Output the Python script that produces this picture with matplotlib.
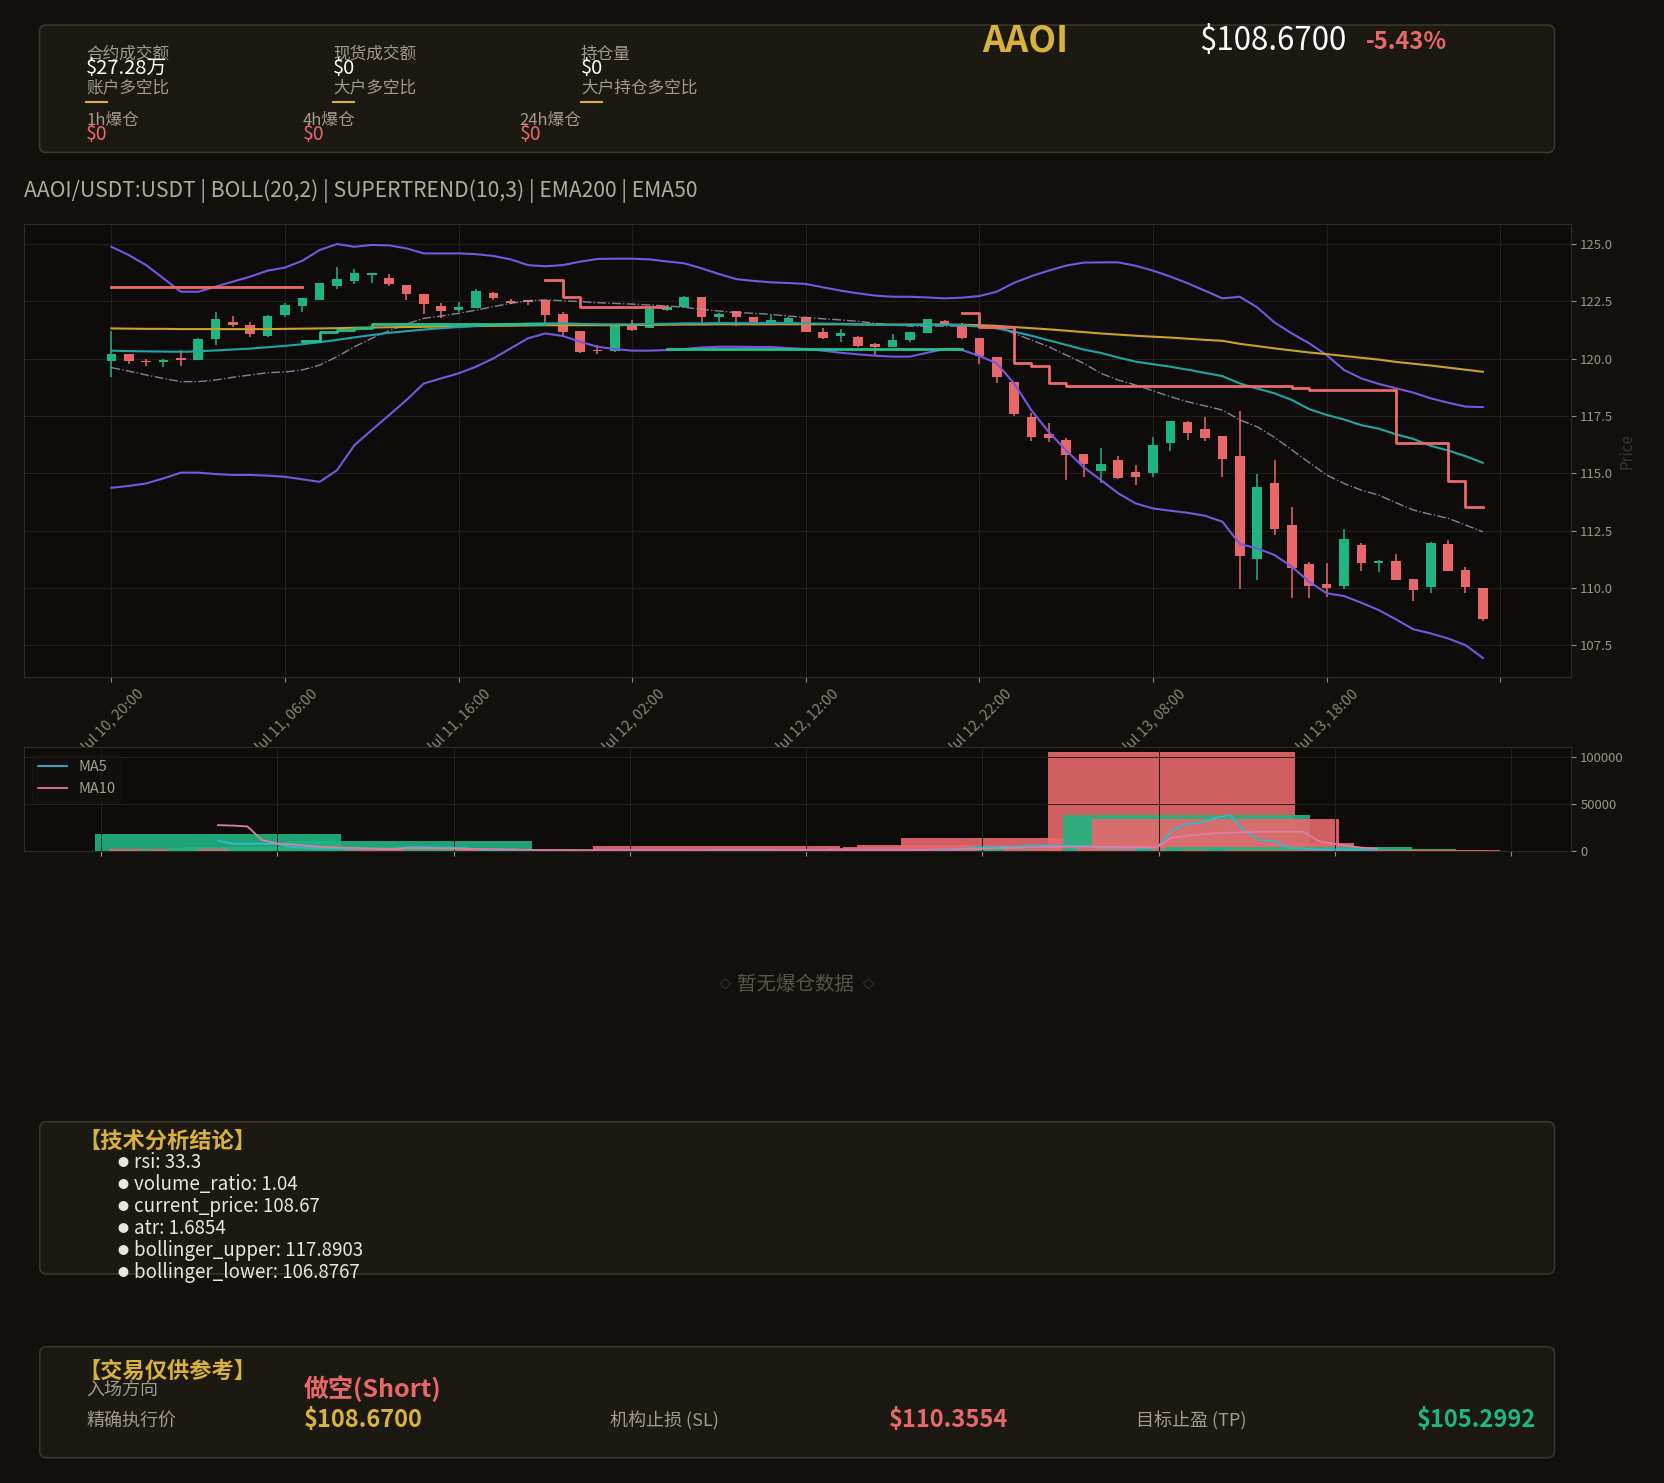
import numpy as np
import matplotlib
matplotlib.use("Agg")
import matplotlib.pyplot as plt
from matplotlib.patches import FancyBboxPatch

plt.rcParams['font.family'] = ['Noto Sans CJK SC', 'DejaVu Sans']

W, H = 1664, 1483

# hourly candles, hour 0 = Jul 10 20:00
OPEN = [119.91, 120.19, 119.87, 119.84, 120.04, 119.95, 120.87, 121.61, 121.49, 120.98,
        121.90, 122.29, 122.57, 123.18, 123.40, 123.66, 123.54, 123.21, 122.82, 122.29,
        122.12, 122.22, 122.88, 122.50, 122.54, 122.54, 121.95, 121.21, 120.40, 120.35,
        121.42, 121.35, 122.12, 122.24, 122.69, 121.83, 122.08, 121.83, 121.57, 121.61,
        121.80, 121.16, 120.99, 120.96, 120.64, 120.52, 120.81, 121.13, 121.66, 121.47,
        120.89, 120.09, 119.00, 117.44, 116.71, 116.45, 115.84, 115.11, 115.58, 115.06,
        115.03, 116.34, 117.25, 116.93, 116.63, 115.75, 111.26, 114.56, 112.75, 111.04,
        110.17, 110.10, 111.87, 111.10, 111.18, 110.39, 110.03, 111.92, 110.78, 110.00]
HIGH = [121.20, 120.20, 120.00, 119.97, 120.37, 120.90, 122.02, 121.87, 121.58, 121.90,
        122.41, 122.64, 123.30, 124.01, 123.89, 123.73, 123.69, 123.21, 122.82, 122.44,
        122.48, 123.06, 122.92, 122.60, 122.54, 122.56, 122.05, 121.21, 120.58, 121.47,
        121.69, 122.19, 122.34, 122.73, 122.69, 121.98, 122.08, 121.83, 121.90, 121.83,
        121.83, 121.32, 121.28, 120.99, 120.67, 121.06, 121.18, 121.73, 121.69, 121.54,
        120.89, 120.09, 119.00, 117.62, 117.21, 116.52, 115.84, 116.09, 115.75, 115.35,
        116.57, 117.30, 117.30, 117.44, 116.63, 117.73, 114.97, 115.58, 113.55, 111.15,
        111.10, 112.56, 111.97, 111.22, 111.47, 110.39, 112.02, 112.09, 110.93, 110.00]
LOW = [119.18, 119.75, 119.68, 119.62, 119.70, 119.93, 120.58, 121.39, 120.95, 120.95,
       121.80, 122.05, 122.57, 123.04, 123.24, 123.28, 123.17, 122.58, 121.97, 121.76,
       122.02, 122.19, 122.58, 122.38, 122.35, 121.54, 121.03, 120.26, 120.19, 120.30,
       121.20, 121.32, 122.09, 122.20, 121.54, 121.61, 121.42, 121.57, 121.51, 121.54,
       121.18, 120.84, 120.74, 120.52, 120.16, 120.52, 120.74, 121.13, 121.51, 120.84,
       119.77, 118.92, 117.50, 116.42, 116.35, 114.71, 114.85, 114.56, 114.74, 114.48,
       114.83, 115.99, 116.45, 116.42, 114.83, 109.94, 110.35, 112.31, 109.58, 109.58,
       109.59, 109.95, 110.75, 110.71, 110.35, 109.45, 109.77, 110.74, 109.80, 108.57]
CLOSE = [120.19, 119.91, 119.84, 119.95, 119.95, 120.88, 121.71, 121.46, 121.07, 121.86,
         122.34, 122.64, 123.30, 123.47, 123.72, 123.73, 123.25, 122.80, 122.40, 122.09,
         122.26, 122.95, 122.66, 122.45, 122.48, 121.92, 121.15, 120.30, 120.34, 121.42,
         121.25, 122.16, 122.24, 122.70, 121.83, 121.95, 121.80, 121.61, 121.69, 121.77,
         121.18, 120.89, 121.13, 120.55, 120.52, 120.81, 121.18, 121.73, 121.51, 120.89,
         120.12, 119.22, 117.59, 116.60, 116.55, 115.80, 115.41, 115.41, 114.78, 114.85,
         116.23, 117.30, 116.77, 116.55, 115.62, 111.41, 114.39, 112.57, 110.88, 110.09,
         110.01, 112.13, 111.10, 111.19, 110.35, 109.91, 111.98, 110.74, 110.03, 108.67]

BOLL_UP = [124.88, 124.52, 124.08, 123.50, 122.92, 122.92, 123.14, 123.36, 123.58, 123.84,
           123.97, 124.27, 124.74, 125.00, 124.88, 124.96, 124.94, 124.81, 124.59, 124.59,
           124.59, 124.56, 124.48, 124.33, 124.08, 124.03, 124.08, 124.23, 124.35, 124.36,
           124.36, 124.33, 124.24, 124.16, 123.94, 123.69, 123.47, 123.39, 123.33, 123.30,
           123.26, 123.11, 122.97, 122.85, 122.75, 122.70, 122.70, 122.67, 122.63, 122.66,
           122.73, 122.92, 123.31, 123.60, 123.84, 124.06, 124.19, 124.20, 124.20, 124.05,
           123.84, 123.58, 123.29, 122.96, 122.63, 122.70, 122.24, 121.58, 121.10, 120.67,
           120.16, 119.51, 119.14, 118.90, 118.71, 118.52, 118.27, 118.08, 117.91, 117.89]
BOLL_MID = [119.61, 119.46, 119.29, 119.14, 119.00, 119.00, 119.07, 119.19, 119.29, 119.39,
            119.42, 119.51, 119.72, 120.09, 120.52, 120.89, 121.22, 121.51, 121.76, 121.86,
            121.98, 122.12, 122.27, 122.41, 122.53, 122.56, 122.53, 122.49, 122.44, 122.41,
            122.38, 122.34, 122.30, 122.24, 122.15, 122.08, 122.01, 121.98, 121.93, 121.86,
            121.80, 121.74, 121.69, 121.63, 121.54, 121.47, 121.42, 121.42, 121.42, 121.42,
            121.42, 121.39, 121.10, 120.81, 120.52, 120.16, 119.80, 119.36, 119.07, 118.85,
            118.60, 118.34, 118.12, 117.94, 117.76, 117.33, 117.03, 116.57, 116.02, 115.47,
            114.93, 114.56, 114.27, 114.05, 113.72, 113.40, 113.21, 113.04, 112.75, 112.45]
BOLL_LOW = [114.37, 114.45, 114.56, 114.78, 115.03, 115.03, 114.97, 114.93, 114.93, 114.90,
            114.85, 114.74, 114.63, 115.14, 116.23, 116.89, 117.54, 118.20, 118.92, 119.14,
            119.36, 119.65, 120.01, 120.45, 120.89, 121.10, 120.99, 120.74, 120.52, 120.42,
            120.35, 120.35, 120.38, 120.42, 120.49, 120.52, 120.52, 120.51, 120.51, 120.46,
            120.42, 120.35, 120.26, 120.19, 120.13, 120.09, 120.09, 120.26, 120.42, 120.38,
            120.12, 119.80, 118.92, 117.75, 116.80, 116.00, 115.27, 114.71, 114.13, 113.69,
            113.47, 113.37, 113.28, 113.15, 112.89, 111.92, 111.73, 111.44, 110.93, 110.27,
            109.77, 109.65, 109.36, 109.04, 108.63, 108.20, 108.02, 107.80, 107.51, 106.95]
EMA200 = [121.32, 121.31, 121.30, 121.30, 121.29, 121.29, 121.29, 121.29, 121.29, 121.29,
          121.30, 121.31, 121.32, 121.33, 121.35, 121.36, 121.37, 121.38, 121.39, 121.40,
          121.41, 121.42, 121.43, 121.44, 121.45, 121.46, 121.46, 121.46, 121.46, 121.46,
          121.47, 121.47, 121.48, 121.49, 121.49, 121.50, 121.50, 121.50, 121.50, 121.50,
          121.50, 121.50, 121.50, 121.49, 121.49, 121.49, 121.49, 121.49, 121.49, 121.48,
          121.46, 121.43, 121.38, 121.33, 121.28, 121.22, 121.16, 121.10, 121.05, 121.00,
          120.96, 120.92, 120.87, 120.82, 120.78, 120.65, 120.55, 120.45, 120.36, 120.27,
          120.20, 120.12, 120.04, 119.96, 119.86, 119.78, 119.70, 119.61, 119.52, 119.43]
EMA50 = [120.35, 120.33, 120.32, 120.31, 120.30, 120.32, 120.36, 120.40, 120.44, 120.50,
         120.56, 120.63, 120.72, 120.82, 120.93, 121.03, 121.13, 121.20, 121.27, 121.33,
         121.38, 121.43, 121.47, 121.50, 121.53, 121.54, 121.54, 121.52, 121.50, 121.50,
         121.50, 121.51, 121.52, 121.54, 121.54, 121.55, 121.55, 121.55, 121.55, 121.55,
         121.54, 121.53, 121.52, 121.50, 121.48, 121.47, 121.47, 121.48, 121.48, 121.46,
         121.40, 121.32, 121.18, 121.00, 120.80, 120.60, 120.40, 120.25, 120.05, 119.87,
         119.76, 119.65, 119.52, 119.38, 119.24, 118.92, 118.70, 118.49, 118.20, 117.80,
         117.55, 117.35, 117.10, 116.95, 116.70, 116.50, 116.20, 116.00, 115.75, 115.46]

nan = np.nan
# supertrend(10,3): bearish (above price) and bullish (below price) parts
ST_RED = ([123.11] * 11 + [nan] * 14 + [123.43, 122.70] + [122.27] * 5 + [nan] * 17
          + [122.00, 121.40, 121.40, 119.80, 119.68, 118.93] + [118.80] * 13 + [118.73]
          + [118.62] * 5 + [116.31] * 3 + [114.66, 113.52, 113.52])
ST_GREEN = ([nan] * 11 + [120.75, 121.17, 121.27, 121.35] + [121.52] * 10 + [nan] * 7
            + [120.41] * 17 + [nan] * 31)

VOLUME = [18000, 2200, 800, 1200, 1500, 3000, 4200, 1800, 2600, 2500,
          1800, 1500, 3000, 11000, 700, 500, 400, 600, 700, 500,
          300, 600, 400, 300, 200, 600, 700, 800, 200, 700,
          300, 500, 200, 400, 5300, 300, 900, 700, 300, 400,
          1500, 1000, 600, 1200, 800, 900, 1200, 1500, 900, 2200,
          3500, 4500, 6400, 3500, 2500, 13800, 3000, 2500, 3500, 2000,
          5000, 3500, 2500, 2000, 3000, 105000, 38600, 3000, 33900, 9000,
          2500, 3500, 2000, 4000, 1500, 1200, 2000, 1500, 800, 1000]
VOL_MA5 = [10900, 7700, 7700, 7700, 7600, 4200, 3500, 3000, 2600, 2500,
           2400, 2200, 2300, 4200, 4000, 3800, 3500, 3000, 900, 700,
           600, 550, 500, 500, 450, 450, 500, 550, 500, 500,
           500, 450, 400, 400, 1400, 1350, 1300, 1300, 1300, 400,
           700, 800, 800, 900, 1000, 950, 1000, 1100, 1200, 1500,
           2000, 2600, 3600, 4000, 4400, 5700, 5900, 5800, 5600, 5500,
           3500, 3300, 3200, 3100, 3200, 21200, 28900, 30000, 35300, 38100,
           21200, 11300, 10600, 3500, 2600, 1800, 1500, 1300, 1200, 1100]
VOL_MA10 = [27500, 27000, 26100, 11600, 8100, 7000, 5600, 4500, 3800, 3200,
            2800, 2400, 2100, 3000, 2900, 2700, 2500, 2200, 2000, 1800,
            1500, 1200, 1100, 1000, 950, 900, 900, 850, 800, 800,
            800, 750, 700, 700, 1100, 1050, 1000, 1000, 950, 900,
            950, 950, 900, 900, 950, 1000, 1050, 1100, 1200, 1300,
            1500, 1800, 2300, 2800, 3200, 3600, 4200, 4500, 4500, 4600,
            4500, 4400, 4300, 4000, 3800, 14100, 16000, 17600, 18800, 19400,
            20000, 20500, 20500, 20500, 20500, 10600, 7800, 5500, 3500, 2800]

TICK_LABELS = ["Jul 10, 20:00", "Jul 11, 06:00", "Jul 11, 16:00", "Jul 12, 02:00",
               "Jul 12, 12:00", "Jul 12, 22:00", "Jul 13, 08:00", "Jul 13, 18:00", ""]

TITLE = "AAOI/USDT:USDT | BOLL(20,2) | SUPERTREND(10,3) | EMA200 | EMA50"
STATS = [("合约成交额", "$27.28万", "账户多空比"),
         ("现货成交额", "$0", "大户多空比"),
         ("持仓量", "$0", "大户持仓多空比")]
LIQS = [("1h爆仓", "$0"), ("4h爆仓", "$0"), ("24h爆仓", "$0")]
TECH = ["rsi: 33.3", "volume_ratio: 1.04", "current_price: 108.67", "atr: 1.6854",
        "bollinger_upper: 117.8903", "bollinger_lower: 106.8767"]

BG = "#12100d"
AX_BG = "#0e0c0a"
PANEL = "#1c1812"
EDGE = "#3a3528"
GOLD = "#d9b23c"
GREY = "#a39b8a"
RED = "#e8686a"
GREEN = "#1fb583"
PURPLE = "#7657e0"
TICK = "#9a9382"


def panel(ax, x0, y0, x1, y1):
    box = FancyBboxPatch((x0, y0), x1 - x0, y1 - y0,
                         boxstyle="round,pad=0,rounding_size=7",
                         fc=PANEL, ec=EDGE, lw=1.2)
    ax.add_patch(box)


def draw_header(bg):
    panel(bg, 39.5, 25, 1554.5, 152.5)
    for k, (lab, val, lab2) in enumerate(STATS):
        x = [86, 333, 581][k]
        bg.text(x, 54.5, lab, color=GREY, fontsize=12, va="center")
        bg.text(x, 69, val, color="white", fontsize=14.5, va="center")
        bg.text(x, 87.5, lab2, color=GREY, fontsize=12, va="center")
        bg.plot([x, x + 21], [101.7, 101.7], color=GOLD, lw=1.5)
    for k, (lab, val) in enumerate(LIQS):
        x = [86, 302.6, 519.6][k]
        bg.text(x, 120.5, lab, color=GREY, fontsize=12, va="center")
        bg.text(x, 134.5, val, color=RED, fontsize=14, va="center")
    bg.text(1025, 41, "AAOI", ha="center", va="center", fontsize=26,
            fontweight="bold", color=GOLD)
    bg.text(1199, 41.5, "$108.6700", va="center", fontsize=22.5, color="white")
    bg.text(1366, 42, "-5.43%", va="center", fontsize=17, fontweight="bold",
            color=RED)
    bg.text(24.4, 191, TITLE, va="center", fontsize=15.2, color="#b3ab9a")


def draw_price(fig):
    ax = fig.add_axes([24.4 / W, 1 - 677 / H, (1570.5 - 24.4) / W,
                       (677 - 224.3) / H], facecolor=AX_BG)
    x = np.arange(len(CLOSE))
    o, c = np.array(OPEN), np.array(CLOSE)
    colors = np.where(c >= o, GREEN, RED)
    ax.vlines(x, LOW, HIGH, colors=colors, lw=1.1, zorder=2)
    ax.bar(x, np.maximum(np.abs(c - o), 0.04), bottom=np.minimum(o, c),
           width=0.55, color=colors, zorder=2)
    ax.plot(x, BOLL_UP, color=PURPLE, lw=1.5, zorder=3)
    ax.plot(x, BOLL_LOW, color=PURPLE, lw=1.5, zorder=3)
    ax.plot(x, BOLL_MID, color="#a49cc4", lw=1, ls="-.", alpha=0.8, zorder=3)
    ax.plot(x, EMA200, color="#c9a227", lw=1.5, zorder=3)
    ax.plot(x, EMA50, color="#1fa5a8", lw=1.5, zorder=3)
    ax.step(x, ST_RED, where="post", color="#ea6b6b", lw=2, zorder=3)
    ax.step(x, ST_GREEN, where="post", color="#22c08c", lw=2, zorder=3)
    ax.set_xlim(-5.01, 84.05)
    ax.set_ylim(106.12, 125.86)
    ax.set_xticks(np.arange(0, 81, 10))
    ax.set_xticklabels(TICK_LABELS, rotation=45)
    ax.set_yticks(np.arange(107.5, 125.1, 2.5))
    ax.yaxis.tick_right()
    ax.yaxis.set_label_position("right")
    ax.set_ylabel("Price", color="#3a352d", fontsize=11)
    ax.tick_params(colors=TICK, labelsize=9.5)
    ax.tick_params(axis="x", labelsize=10.5, colors="#8c8576")
    ax.grid(True, color="#24211c", lw=0.7)
    for s in ax.spines.values():
        s.set_color("#2c2822")
    return colors


def draw_volume(fig, colors):
    # drawn after the price axes, so its face hides the ends of the
    # rotated date labels, as in the reference
    axv = fig.add_axes([24.4 / W, 1 - 851 / H, (1570.5 - 24.4) / W,
                        (851 - 747.3) / H], facecolor=AX_BG)
    vx = 6.64 + 0.832 * np.arange(len(VOLUME))
    axv.bar(vx, VOLUME, width=14.0, color=colors, alpha=0.9)
    axv.plot(vx, VOL_MA5, color="#36b6cf", lw=1.3, label="MA5")
    axv.plot(vx, VOL_MA10, color="#e27aa5", lw=1.3, label="MA10")
    axv.set_xticks(np.arange(0, 81, 10))
    axv.set_yticks([0, 50000, 100000])
    axv.yaxis.tick_right()
    axv.tick_params(colors=TICK, labelsize=9.5, labelbottom=False)
    axv.grid(True, color="#24211c", lw=0.7)
    for s in axv.spines.values():
        s.set_color("#2c2822")
    leg = axv.legend(loc="upper left", fontsize=10.5, facecolor="#14120f",
                     edgecolor="#1f1c18", labelcolor="#a8a090", framealpha=0.6)
    leg.get_frame().set_linewidth(0.6)


def draw_bottom(bg):
    bg.text(725, 984, "◇", ha="center", va="center", fontsize=8, color="#5a5448")
    bg.text(796, 984, "暂无爆仓数据", ha="center", va="center",
            fontsize=14, color="#5a5448")
    bg.text(868, 984, "◇", ha="center", va="center", fontsize=8, color="#5a5448")

    panel(bg, 39.8, 1121.7, 1554.5, 1274)
    bg.text(78, 1142.5, "【技术分析结论】", va="center", fontsize=16,
            fontweight="bold", color=GOLD)
    for k, item in enumerate(TECH):
        y = 1162.3 + 22.1 * k
        bg.text(117.5, y + 0.5, "●", va="center", fontsize=8, color="#ebe6dc")
        bg.text(134, y, item, va="center", fontsize=13.5, color="#ebe6dc")

    panel(bg, 39.8, 1346.7, 1554.5, 1457.7)
    bg.text(78, 1371, "【交易仅供参考】", va="center", fontsize=16,
            fontweight="bold", color=GOLD)
    bg.text(86, 1390, "入场方向", va="center", fontsize=13, color=GREY)
    bg.text(303.4, 1388.5, "做空(Short)", va="center", fontsize=18,
            fontweight="bold", color=RED)
    bg.text(86, 1421, "精确执行价", va="center", fontsize=13, color=GREY)
    bg.text(303.4, 1420, "$108.6700", va="center", fontsize=17,
            fontweight="bold", color=GOLD)
    bg.text(610, 1421, "机构止损 (SL)", va="center", fontsize=13, color=GREY)
    bg.text(889, 1420, "$110.3554", va="center", fontsize=17,
            fontweight="bold", color=RED)
    bg.text(1136, 1421, "目标止盈 (TP)", va="center", fontsize=13, color=GREY)
    bg.text(1536.5, 1420, "$105.2992", ha="right", va="center", fontsize=17,
            fontweight="bold", color=GREEN)


def main():
    fig = plt.figure(figsize=(W / 100, H / 100), dpi=100, facecolor=BG)
    bg = fig.add_axes([0, 0, 1, 1])
    bg.set_xlim(0, W)
    bg.set_ylim(H, 0)
    bg.axis("off")
    draw_header(bg)
    colors = draw_price(fig)
    draw_volume(fig, colors)
    draw_bottom(bg)
    fig.savefig("out.png", dpi=100, facecolor=BG)


if __name__ == "__main__":
    main()
